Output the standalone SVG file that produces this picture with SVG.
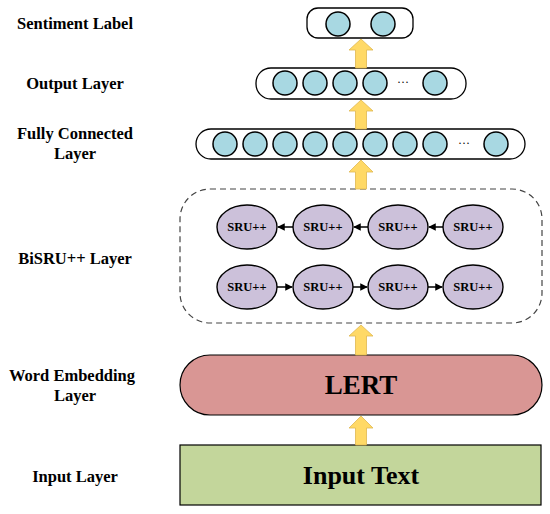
<svg xmlns="http://www.w3.org/2000/svg" width="550" height="514" viewBox="0 0 550 514">
<defs>
<style>
.lbl{font-family:"Liberation Serif","Times New Roman",serif;font-weight:bold;font-size:16.5px;fill:#000;text-anchor:middle}
.box{fill:#fff;stroke:#000;stroke-width:1.3}
.c{fill:#A8D8E2;stroke:#000;stroke-width:1.5}
.e{fill:#CCC1DA;stroke:#000;stroke-width:1.4}
.et{font-family:"Liberation Serif","Times New Roman",serif;font-weight:bold;font-size:12.5px;fill:#000;text-anchor:middle}
.dots{font-family:"Liberation Serif",serif;font-size:12px;fill:#000;text-anchor:middle}
.ya{fill:#FFD966;stroke:#E0B850;stroke-width:0.8}
.ln{stroke:#000;stroke-width:1.5;fill:none}
</style>
<marker id="ah" viewBox="0 0 10 10" refX="9" refY="5" markerWidth="5" markerHeight="5" orient="auto">
<path d="M0,0 L10,5 L0,10 z" fill="#000"/>
</marker>
</defs>

<g id="labels">
<text class="lbl" x="75" y="29">Sentiment Label</text>
<text class="lbl" x="75" y="89">Output Layer</text>
<text class="lbl" x="75" y="139">Fully Connected</text>
<text class="lbl" x="75" y="159">Layer</text>
<text class="lbl" x="75" y="264">BiSRU++ Layer</text>
<text class="lbl" x="72" y="381">Word Embedding</text>
<text class="lbl" x="75" y="401">Layer</text>
<text class="lbl" x="75" y="482">Input Layer</text>
</g>

<g id="sentiment">
<rect class="box" x="307" y="8" width="106" height="30" rx="11"/>
<circle class="c" cx="338" cy="24" r="12"/>
<circle class="c" cx="383" cy="24" r="12"/>
</g>

<g id="output">
<rect class="box" x="256" y="68" width="210" height="31" rx="15"/>
<circle class="c" cx="285" cy="83" r="12"/>
<circle class="c" cx="315" cy="83" r="12"/>
<circle class="c" cx="345" cy="83" r="12"/>
<circle class="c" cx="375" cy="83" r="12"/>
<text class="dots" x="403" y="86">···</text>
<circle class="c" cx="435" cy="83" r="12"/>
</g>

<g id="fully-connected">
<rect class="box" x="196" y="129" width="329" height="30" rx="15"/>
<circle class="c" cx="225" cy="144" r="12"/>
<circle class="c" cx="255" cy="144" r="12"/>
<circle class="c" cx="285" cy="144" r="12"/>
<circle class="c" cx="315" cy="144" r="12"/>
<circle class="c" cx="345" cy="144" r="12"/>
<circle class="c" cx="375" cy="144" r="12"/>
<circle class="c" cx="405" cy="144" r="12"/>
<circle class="c" cx="435" cy="144" r="12"/>
<text class="dots" x="464" y="147">···</text>
<circle class="c" cx="496" cy="144" r="12"/>
</g>

<g id="bisru">
<rect x="180" y="189" width="362" height="134" rx="30" fill="#fff" stroke="#444" stroke-width="1.2" stroke-dasharray="6,4"/>
<g id="bw1"><ellipse class="e" cx="247" cy="227" rx="30" ry="22"/><text class="et" x="247" y="231">SRU++</text></g>
<g id="bw2"><ellipse class="e" cx="323" cy="227" rx="30" ry="22"/><text class="et" x="323" y="231">SRU++</text></g>
<g id="bw3"><ellipse class="e" cx="398" cy="227" rx="30" ry="22"/><text class="et" x="398" y="231">SRU++</text></g>
<g id="bw4"><ellipse class="e" cx="473" cy="227" rx="30" ry="22"/><text class="et" x="473" y="231">SRU++</text></g>
<g id="fw1"><ellipse class="e" cx="247" cy="287" rx="30" ry="22"/><text class="et" x="247" y="291">SRU++</text></g>
<g id="fw2"><ellipse class="e" cx="323" cy="287" rx="30" ry="22"/><text class="et" x="323" y="291">SRU++</text></g>
<g id="fw3"><ellipse class="e" cx="398" cy="287" rx="30" ry="22"/><text class="et" x="398" y="291">SRU++</text></g>
<g id="fw4"><ellipse class="e" cx="473" cy="287" rx="30" ry="22"/><text class="et" x="473" y="291">SRU++</text></g>
</g>

<g id="lert">
<rect x="180" y="355" width="362" height="60" rx="30" fill="#D99694" stroke="#000" stroke-width="1.2"/>
<text x="361" y="394" font-family="'Liberation Serif','Times New Roman',serif" font-weight="bold" font-size="27" text-anchor="middle">LERT</text>
</g>

<g id="input">
<rect x="180" y="445" width="361" height="60" fill="#C3D69B" stroke="#000" stroke-width="1.2"/>
<text x="361" y="484" font-family="'Liberation Serif','Times New Roman',serif" font-weight="bold" font-size="26" text-anchor="middle">Input Text</text>
</g>

<g id="connectors">
<path class="ya" d="M361,39 L373,50 L366.5,50 L366.5,68 L355.5,68 L355.5,50 L349,50 Z"/>
<path class="ya" d="M361,100 L373,111 L366.5,111 L366.5,129 L355.5,129 L355.5,111 L349,111 Z"/>
<path class="ya" d="M361,160 L373,172 L366.5,172 L366.5,189 L355.5,189 L355.5,172 L349,172 Z"/>
<path class="ya" d="M361,325 L373,336 L366.5,336 L366.5,355 L355.5,355 L355.5,336 L349,336 Z"/>
<path class="ya" d="M361,416 L373,428 L366.5,428 L366.5,445 L355.5,445 L355.5,428 L349,428 Z"/>
<line class="ln" x1="293" y1="227" x2="278" y2="227" marker-end="url(#ah)"/>
<line class="ln" x1="368" y1="227" x2="354" y2="227" marker-end="url(#ah)"/>
<line class="ln" x1="443" y1="227" x2="429" y2="227" marker-end="url(#ah)"/>
<line class="ln" x1="277" y1="287" x2="292" y2="287" marker-end="url(#ah)"/>
<line class="ln" x1="353" y1="287" x2="367" y2="287" marker-end="url(#ah)"/>
<line class="ln" x1="428" y1="287" x2="442" y2="287" marker-end="url(#ah)"/>
</g>
</svg>
